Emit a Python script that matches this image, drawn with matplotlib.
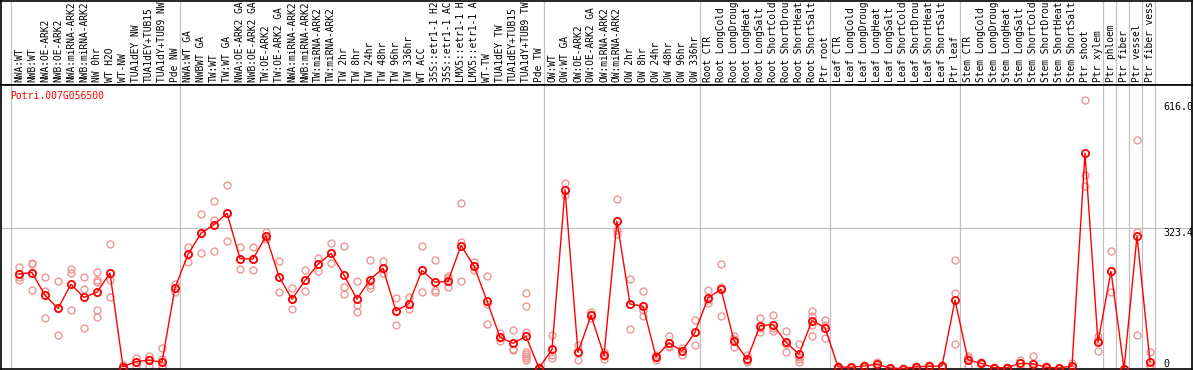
import matplotlib
matplotlib.use('Agg')
import matplotlib.pyplot as plt
import matplotlib.transforms as mtransforms

# sample names, in plotting order
samples = [
    'NWA:WT', 'NWB:WT', 'NWA:OE-ARK2', 'NWB:OE-ARK2', 'NWA:miRNA-ARK2', 'NWB:miRNA-ARK2',
    'NW 0hr', 'WT H2O', 'WT-NW', 'TUA1dEY NW', 'TUA1dEY+TUB15', 'TUA1dY+TUB9 NW', 'Pde NW',
    'NWA:WT GA', 'NWBWT GA', 'TW:WT', 'TW:WT GA', 'NWA:OE-ARK2 GA', 'NWB:OE-ARK2 GA',
    'TW:OE-ARK2', 'TW:OE-ARK2 GA', 'NWA:miRNA-ARK2', 'NWB:miRNA-ARK2', 'TW:miRNA-ARK2',
    'TW:miRNA-ARK2', 'TW 2hr', 'TW 8hr', 'TW 24hr', 'TW 48hr', 'TW 96hr', 'TW 336hr', 'WT ACC',
    '35S::etr1-1 H2', '35S::etr1-1 AC', 'LMX5::etr1-1 H', 'LMX5::etr1-1 A', 'WT-TW',
    'TUA1dEY TW', 'TUA1dEY+TUB15', 'TUA1dY+TUB9 TW', 'Pde TW',
    'OW:WT', 'OW:WT GA', 'OW:OE-ARK2', 'OW:OE-ARK2 GA', 'OW:miRNA-ARK2', 'OW:miRNA-ARK2',
    'OW 2hr', 'OW 8hr', 'OW 24hr', 'OW 48hr', 'OW 96hr', 'OW 336hr',
    'Root CTR', 'Root LongCold', 'Root LongDroug', 'Root LongHeat', 'Root LongSalt',
    'Root ShortCold', 'Root ShortDrou', 'Root ShortHeat', 'Root ShortSalt', 'Ptr root',
    'Leaf CTR', 'Leaf LongCold', 'Leaf LongDroug', 'Leaf LongHeat', 'Leaf LongSalt',
    'Leaf ShortCold', 'Leaf ShortDrou', 'Leaf ShortHeat', 'Leaf ShortSalt', 'Ptr leaf',
    'Stem CTR', 'Stem LongCold', 'Stem LongDroug', 'Stem LongHeat', 'Stem LongSalt',
    'Stem ShortCold', 'Stem ShortDrou', 'Stem ShortHeat', 'Stem ShortSalt', 'Ptr shoot',
    'Ptr xylem', 'Ptr phloem', 'Ptr fiber', 'Ptr vessel', 'Ptr fiber vess',
]

# first sample index of each group (last entry = end)
group_starts = [0, 13, 41, 53, 63, 73, 84, 85, 86, 87, 88]

means = [
    218, 221, 169, 139, 194, 164, 176, 220, 5, 17, 20, 16, 186,
    263, 311, 331, 357, 253, 252, 305, 212, 160, 203, 240, 265, 215, 160, 205, 231,
    133, 150, 226, 199, 201, 283, 236, 156, 73, 59, 75, 2,
    45, 411, 38, 123, 31, 339, 149, 144, 28, 60, 41, 84,
    163, 183, 65, 22, 99, 102, 61, 34, 111, 95,
    5, 4, 7, 11, 2, 1, 5, 6, 7, 158,
    21, 13, 3, 3, 13, 12, 4, 2, 7, 495, 61,
    224, 0, 305, 17,
]

replicates = [
    [233, 210, 204], [243, 240, 180], [210, 178, 116], [201, 139, 77], [229, 220, 135],
    [210, 184, 94], [222, 204, 200, 135, 120], [286, 204, 164], [10, 4, 1], [26, 17, 7],
    [30, 22, 8], [47, 24, 8, 2], [194, 185, 177],
    [279, 263, 245], [356, 311, 265], [384, 341, 270], [421, 357, 293], [279, 253, 229],
    [279, 252, 226], [315, 303, 297], [247, 212, 176], [185, 160, 137], [226, 203, 178],
    [255, 240, 224], [288, 265, 242], [283, 188, 171], [201, 147, 130], [251, 192, 186],
    [247, 230, 220], [162, 133, 102], [164, 150, 137], [283, 226, 176], [251, 181, 176],
    [214, 209, 189], [380, 291, 201], [245, 236, 227], [214, 150, 104], [83, 70, 65],
    [89, 46, 43], [175, 145, 85, 40, 35, 30, 25, 20], [5, 2, 0],
    [77, 32, 26], [427, 411, 399], [55, 38, 21], [130, 123, 116], [40, 30, 24],
    [389, 318, 310], [207, 149, 92], [178, 135, 121], [32, 28, 21], [76, 53, 50],
    [47, 41, 32], [112, 84, 56],
    [180, 158, 151], [240, 187, 121], [76, 68, 51], [32, 20, 15], [116, 95, 84],
    [124, 94, 87], [87, 58, 38], [58, 28, 24, 15], [133, 122, 100, 76], [112, 100, 72],
    [8, 5, 3], [5, 4, 2], [10, 7, 4], [16, 11, 6], [3, 2, 1], [2, 1, 0], [8, 5, 2],
    [9, 6, 3], [9, 7, 5], [251, 175, 58],
    [30, 25, 8], [15, 13, 11], [4, 3, 2], [4, 3, 2], [21, 13, 5], [30, 5, 1], [6, 4, 2],
    [3, 2, 1], [14, 7, 0], [616, 445, 420], [76, 66, 42],
    [270, 224, 176], [1, 0, 0], [525, 313, 77], [38, 10, 5],
]

gene = 'Potri.007G056500'
ytick_values = [616.0, 323.4, 0]

W, H = 1194, 370
fig = plt.figure(figsize=(W / 100, H / 100), dpi=100)

# pixel layout: samples at 19 + 13*i, header 0..85, plot 85..369
x_lo = (1 - 19) / 13
x_hi = (1192 - 19) / 13
left = 1 / W
width = (1192 - 1) / W
ax_head = fig.add_axes([left, (H - 85) / H, width, 84.5 / H])
ax = fig.add_axes([left, (H - 369) / H, width, (369 - 85) / H])

mono = 'DejaVu Sans Mono'
grey = '#c0c0c0'
seps = [s - 0.62 for s in group_starts]

for a in (ax_head, ax):
    a.set_xlim(x_lo, x_hi)
    a.set_xticks([])
    a.set_yticks([])
    for sp in a.spines.values():
        sp.set_color('black')
        sp.set_linewidth(1.2)
    for s in seps:
        a.axvline(s, color=grey, lw=0.9, zorder=0)

ax_head.set_ylim(0, 1)
trans_head = mtransforms.blended_transform_factory(ax_head.transData, ax_head.transAxes)
for i, name in enumerate(samples):
    ax_head.text(i, 0.035, name, rotation=90, ha='center', va='bottom', fontsize=6.9,
                 family=mono, transform=trans_head, clip_on=True)

ax.set_ylim(0, 651)
ax.axhline(ytick_values[1], color=grey, lw=0.9, zorder=0)

for i, reps in enumerate(replicates):
    ax.plot([i] * len(reps), reps, 'o', ms=5, mfc='none', mec='#ee9696', mew=1.0,
            zorder=2, clip_on=True)
ax.plot(range(len(means)), means, '-', color='red', lw=1.0, zorder=3)
ax.plot(range(len(means)), means, 'o', ms=5.2, mfc='none', mec='red', mew=1.3, zorder=4)

ax.text(0.0076, 0.98, gene, color='red', fontsize=7, family=mono, ha='left', va='top',
        transform=ax.transAxes)

trans_y = mtransforms.blended_transform_factory(ax.transAxes, ax.transData)
for v in ytick_values:
    va = 'bottom' if v == 0 else 'top'
    ax.text(0.9757, v if v != ytick_values[0] else v - 4, f'{v:g}' if v == 0 else f'{v:.1f}',
            fontsize=7.2, family=mono, ha='left', va=va, transform=trans_y, clip_on=True)

fig.savefig('out.png', dpi=100)
